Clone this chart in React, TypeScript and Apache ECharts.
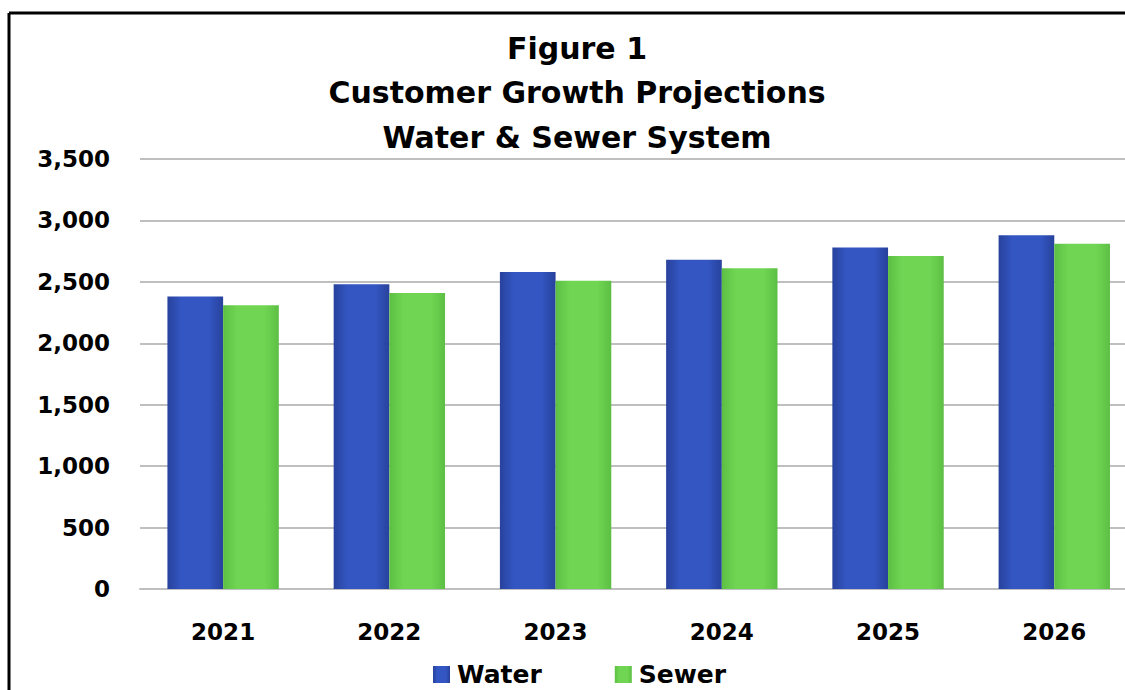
import React, { useEffect, useRef } from "react";
import * as echarts from "echarts";

const years = ["2021", "2022", "2023", "2024", "2025", "2026"];
const water = [2380, 2480, 2580, 2680, 2780, 2880];
const sewer = [2310, 2410, 2510, 2610, 2710, 2810];
const titleLines = ["Figure 1", "Customer Growth Projections", "Water & Sewer System"];

const FONT = "DejaVu Sans";

function grad(edge: string, mid: string) {
  return new echarts.graphic.LinearGradient(0, 0, 1, 0, [
    { offset: 0, color: edge },
    { offset: 0.25, color: mid },
    { offset: 0.75, color: mid },
    { offset: 1, color: edge },
  ]);
}

export default function App() {
  const ref = useRef<HTMLDivElement>(null);
  useEffect(() => {
    document.body.style.margin = "0";
    document.body.style.overflow = "hidden";
    const chart = echarts.init(ref.current!, null, { renderer: "svg" });
    chart.setOption({
      animation: false,
      backgroundColor: "#ffffff",
      title: {
        text: titleLines.join("\n"),
        left: 572,
        textAlign: "center",
        top: 21,
        textStyle: {
          fontFamily: FONT,
          fontWeight: "bold",
          fontSize: 30,
          lineHeight: 44.5,
          color: "#000",
        },
      },
      legend: {
        left: 428,
        top: 657,
        itemWidth: 17,
        itemHeight: 17,
        itemGap: 73,
        icon: "rect",
        textStyle: { fontFamily: FONT, fontWeight: "bold", fontSize: 25, color: "#000", padding: [0, 0, 0, 2] },
        data: ["Water", "Sewer"],
      },
      grid: { left: 140, top: 159, width: 997.4, height: 430 },
      xAxis: {
        type: "category",
        data: years,
        axisLine: { show: true, lineStyle: { color: "#bfbfbf", width: 2 } },
        axisTick: { show: false },
        axisLabel: {
          fontFamily: FONT,
          fontWeight: "bold",
          fontSize: 23,
          color: "#000",
          margin: 31,
        },
      },
      yAxis: {
        type: "value",
        min: 0,
        max: 3500,
        interval: 500,
        axisLine: { show: false },
        axisTick: { show: false },
        splitLine: { lineStyle: { color: "#bfbfbf", width: 2 } },
        axisLabel: {
          fontFamily: FONT,
          fontWeight: "bold",
          fontSize: 23,
          color: "#000",
          margin: 30,
          formatter: (v: number) => v.toLocaleString("en-US"),
        },
      },
      series: [
        {
          name: "Water",
          type: "bar",
          data: water,
          barGap: "0%",
          barCategoryGap: "33%",
          itemStyle: { color: grad("#28429c", "#3356c2") },
        },
        {
          name: "Sewer",
          type: "bar",
          data: sewer,
          itemStyle: { color: grad("#5cbf44", "#70d552") },
        },
      ],
      graphic: [
        { type: "line", shape: { x1: 9, y1: 13, x2: 1160, y2: 13 }, style: { stroke: "#000", lineWidth: 3 } },
        { type: "line", shape: { x1: 9, y1: 13, x2: 9, y2: 690 }, style: { stroke: "#000", lineWidth: 3 } },
      ],
    });
    return () => chart.dispose();
  }, []);
  return (
    <div style={{ width: 1125, height: 690, overflow: "hidden", position: "relative" }}>
      <div ref={ref} style={{ width: 1160, height: 690 }} />
    </div>
  );
}
